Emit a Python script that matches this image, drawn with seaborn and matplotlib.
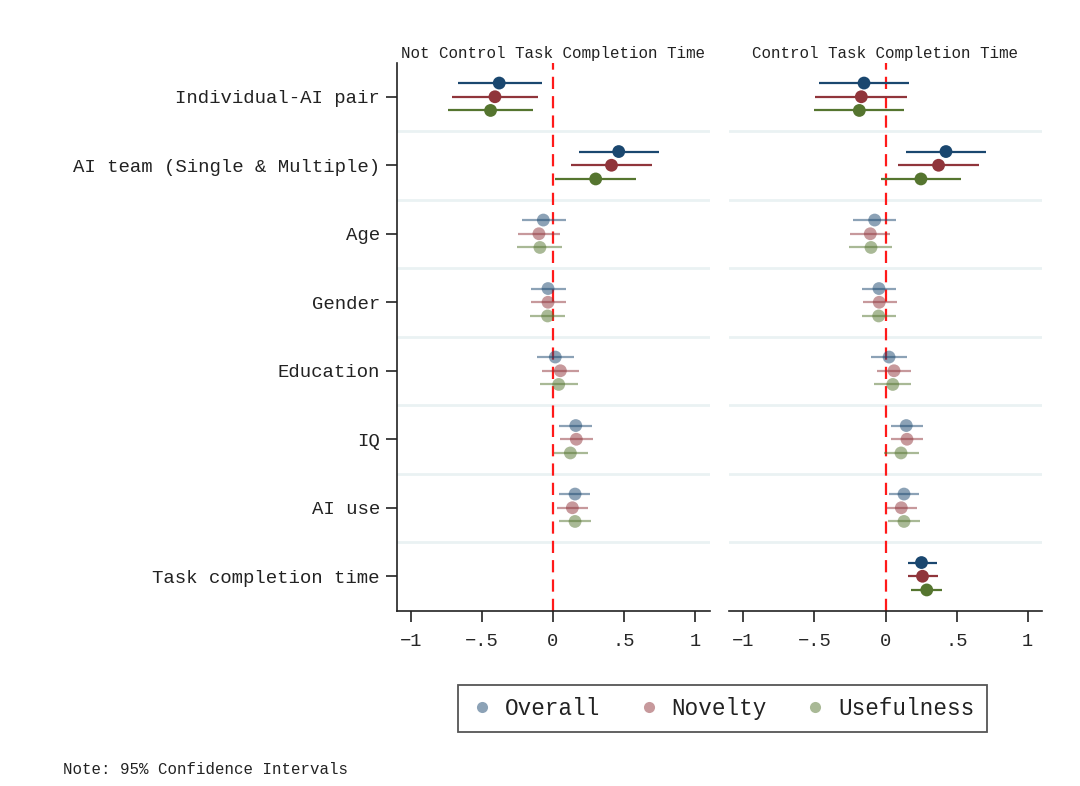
import matplotlib
matplotlib.use("Agg")
import matplotlib.pyplot as plt
from matplotlib.lines import Line2D
import seaborn as sns
import numpy as np
import pandas as pd

sns.set_theme(style="white")
plt.rcParams["font.family"] = ["Liberation Mono", "DejaVu Sans Mono"]
plt.rcParams["axes.unicode_minus"] = True

# ---------------- data ----------------
variables = ["Individual-AI pair", "AI team (Single & Multiple)", "Age", "Gender",
             "Education", "IQ", "AI use", "Task completion time"]
emphasis = [True, True, False, False, False, False, False, True]
series = ["Overall", "Novelty", "Usefulness"]
panels = ["Not Control Task Completion Time", "Control Task Completion Time"]
x_ticks = [-1, -0.5, 0, 0.5, 1]
x_tick_labels = ["\u22121", "\u2212.5", "0", ".5", "1"]

# Panel 1: Not Control Task Completion Time (no task completion time row)
nc_overall_coef = [-0.378, 0.462, -0.068, -0.035, 0.016, 0.160, 0.155, np.nan]
nc_overall_lo = [-0.671, 0.183, -0.221, -0.155, -0.113, 0.045, 0.045, np.nan]
nc_overall_hi = [-0.080, 0.746, 0.089, 0.089, 0.146, 0.275, 0.263, np.nan]
nc_novelty_coef = [-0.408, 0.411, -0.099, -0.035, 0.052, 0.164, 0.136, np.nan]
nc_novelty_lo = [-0.709, 0.127, -0.246, -0.155, -0.075, 0.052, 0.028, np.nan]
nc_novelty_hi = [-0.108, 0.697, 0.049, 0.089, 0.181, 0.279, 0.246, np.nan]
nc_useful_coef = [-0.439, 0.300, -0.092, -0.038, 0.040, 0.122, 0.155, np.nan]
nc_useful_lo = [-0.735, 0.012, -0.251, -0.160, -0.094, 0.005, 0.040, np.nan]
nc_useful_hi = [-0.139, 0.582, 0.066, 0.085, 0.174, 0.244, 0.268, np.nan]

# Panel 2: Control Task Completion Time
c_overall_coef = [-0.151, 0.425, -0.076, -0.046, 0.025, 0.146, 0.130, 0.253]
c_overall_lo = [-0.469, 0.142, -0.226, -0.163, -0.100, 0.036, 0.022, 0.157]
c_overall_hi = [0.167, 0.705, 0.074, 0.076, 0.153, 0.261, 0.237, 0.360]
c_novelty_coef = [-0.170, 0.373, -0.107, -0.044, 0.060, 0.151, 0.111, 0.260]
c_novelty_lo = [-0.493, 0.086, -0.247, -0.160, -0.060, 0.041, 0.008, 0.159]
c_novelty_hi = [0.149, 0.658, 0.034, 0.079, 0.181, 0.265, 0.219, 0.368]
c_useful_coef = [-0.184, 0.249, -0.102, -0.048, 0.051, 0.109, 0.130, 0.290]
c_useful_lo = [-0.504, -0.032, -0.254, -0.167, -0.079, -0.011, 0.018, 0.180]
c_useful_hi = [0.132, 0.532, 0.048, 0.074, 0.181, 0.233, 0.241, 0.397]

colors = {"Overall": "#1a476f", "Novelty": "#90353b", "Usefulness": "#55752f"}
offsets = {"Overall": -0.2, "Novelty": 0.0, "Usefulness": 0.2}

raw = {
    panels[0]: {"Overall": (nc_overall_coef, nc_overall_lo, nc_overall_hi),
                "Novelty": (nc_novelty_coef, nc_novelty_lo, nc_novelty_hi),
                "Usefulness": (nc_useful_coef, nc_useful_lo, nc_useful_hi)},
    panels[1]: {"Overall": (c_overall_coef, c_overall_lo, c_overall_hi),
                "Novelty": (c_novelty_coef, c_novelty_lo, c_novelty_hi),
                "Usefulness": (c_useful_coef, c_useful_lo, c_useful_hi)},
}
rows = []
for p in panels:
    for s in series:
        coef, lo, hi = raw[p][s]
        for i, v in enumerate(variables):
            rows.append(dict(panel=p, series=s, variable=v, idx=i,
                             y=i + offsets[s], coef=coef[i], lo=lo[i], hi=hi[i],
                             emph=emphasis[i]))
df = pd.DataFrame(rows).dropna()

# ---------------- figure ----------------
W, H = 1080, 786
fig = plt.figure(figsize=(W / 100, H / 100), dpi=100)
ax_l = fig.add_axes([396.5 / W, 1 - 610.5 / H, 313 / W, 548 / H])
ax_r = fig.add_axes([729 / W, 1 - 610.5 / H, 313 / W, 548 / H])

for ax, p in zip([ax_l, ax_r], panels):
    sub = df[df.panel == p]
    ax.set_xlim(-1.1, 1.1)
    ax.set_ylim(len(variables) - 0.5, -0.5)
    # group separators
    for k in range(1, len(variables)):
        ax.axhline(k - 0.5, color="#eaf2f3", lw=2, zorder=0)
    ax.axvline(0, color="#ff1a1a", lw=1.6, dashes=(5.5, 3.2), zorder=1)
    for s in series:
        for emph, a in [(True, 1.0), (False, 0.5)]:
            d = sub[(sub.series == s) & (sub.emph == emph)]
            if d.empty:
                continue
            ax.hlines(d.y, d.lo, d.hi, color=colors[s], lw=1.6, alpha=a, zorder=2)
            sns.scatterplot(data=d, x="coef", y="y", ax=ax, color=colors[s],
                            s=85, alpha=a, edgecolor="none", zorder=3, legend=False)
    ax.set_xlabel("")
    ax.set_ylabel("")
    ax.set_xticks(x_ticks)
    ax.set_xticklabels(x_tick_labels, fontsize=13.5)
    ax.tick_params(axis="x", direction="out", length=8, width=1.2, color="#222222",
                   pad=8, bottom=True)
    ax.set_title(p, fontsize=11.4, pad=3, color="#222222")
    for side in ["top", "right"]:
        ax.spines[side].set_visible(False)
    ax.spines["bottom"].set_color("#222222")
    ax.spines["bottom"].set_linewidth(1.2)
    ax.grid(False)
    ax.set_facecolor("white")

ax_l.set_yticks(range(len(variables)))
ax_l.set_yticklabels(variables, fontsize=13.7, color="#222222")
ax_l.tick_params(axis="y", direction="out", length=8, width=1.2, color="#222222",
                 pad=4, left=True)
ax_l.spines["left"].set_color("#222222")
ax_l.spines["left"].set_linewidth(1.2)
ax_r.set_yticks([])
ax_r.spines["left"].set_visible(False)

handles = [Line2D([0], [0], marker="o", linestyle="none", markersize=8,
                  markerfacecolor=colors[s], markeredgecolor="none", alpha=0.5)
           for s in series]
leg = fig.legend(handles, series, loc="center", ncol=3,
                 bbox_to_anchor=(722.5 / W, 1 - 708.5 / H), fontsize=16.3,
                 frameon=True, fancybox=False, framealpha=1, edgecolor="#555555",
                 handlelength=1.0, handletextpad=0.5, columnspacing=1.65, borderpad=0.55)
leg.get_frame().set_linewidth(1.3)
for t in leg.get_texts():
    t.set_color("#222222")

fig.text(63 / W, 1 - 770 / H, "Note: 95% Confidence Intervals", fontsize=11.3,
         va="center", ha="left", color="#222222")

fig.savefig("out.png", dpi=100, facecolor="white")
